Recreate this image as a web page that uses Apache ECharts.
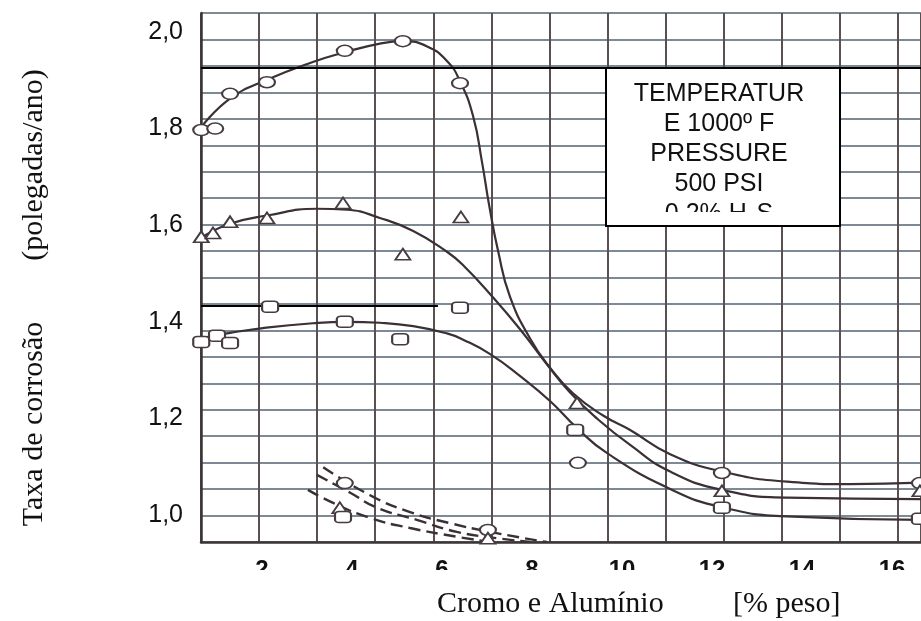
<!DOCTYPE html>
<html lang="pt">
<head>
    <meta charset="UTF-8">
    <title>Taxa de corrosão</title>
    <script src="https://cdn.jsdelivr.net/npm/echarts@6/dist/echarts.min.js"></script>
    <style>
        html, body { margin: 0; padding: 0; background: #fff; }
        #main { width: 921px; height: 621px; }
    </style>
</head>
<body>
<div id="main"></div>
<script type="text/javascript">
    // eixos
    var xMin = 0.6444, xMax = 16.644;
    var yMin = 0.9441, yMax = 2.0393;
    var xTicks = [2, 4, 6, 8, 10, 12, 14, 16];
    var yTicks = [1.0, 1.2, 1.4, 1.6, 1.8, 2.0];

    // pontos medidos
    var circlePts = [[0.65, 1.797], [0.96, 1.800], [1.29, 1.872], [2.11, 1.896], [3.84, 1.961], [5.13, 1.981],
        [6.40, 1.894], [9.02, 1.108], [12.22, 1.087], [16.62, 1.066], [3.84, 1.066], [7.02, 0.969]];
    var trianglePts = [[0.65, 1.576], [0.91, 1.584], [1.29, 1.607], [2.11, 1.615], [3.80, 1.646], [5.13, 1.540],
        [6.42, 1.617], [9.00, 1.232], [12.22, 1.050], [16.62, 1.050], [3.73, 1.015], [7.02, 0.952]];
    var squarePts = [[0.65, 1.358], [1.00, 1.371], [1.29, 1.356], [2.18, 1.431], [3.84, 1.400], [5.07, 1.364],
        [6.40, 1.429], [8.96, 1.176], [12.22, 1.015], [16.62, 0.992], [3.80, 0.996]];

    // curvas ajustadas
    var circleCurve = [[0.65, 1.803], [1.29, 1.862], [2.11, 1.901], [3.13, 1.938], [3.84, 1.958], [4.62, 1.976],
        [5.13, 1.981], [5.67, 1.970], [6.11, 1.940], [6.40, 1.898], [6.69, 1.826], [6.89, 1.730], [7.05, 1.640],
        [7.25, 1.545], [7.51, 1.452], [7.96, 1.365], [8.40, 1.305], [8.91, 1.252], [9.58, 1.206], [10.18, 1.176],
        [11.07, 1.126], [12.22, 1.090], [13.67, 1.069], [15.07, 1.064], [16.64, 1.067]];
    var triangleCurve = [[0.65, 1.574], [1.29, 1.603], [2.11, 1.620], [3.22, 1.634], [3.89, 1.632], [4.62, 1.615],
        [5.36, 1.588], [6.11, 1.545], [6.47, 1.517], [7.13, 1.451], [7.73, 1.385], [8.33, 1.312],
        [8.84, 1.254], [9.44, 1.200], [10.18, 1.145], [11.07, 1.090], [12.22, 1.052], [13.67, 1.036], [16.64, 1.033]];
    var squareCurve = [[0.65, 1.366], [1.29, 1.377], [2.02, 1.387], [3.13, 1.397], [3.89, 1.400], [4.62, 1.398],
        [5.36, 1.391], [6.11, 1.376], [6.47, 1.363], [7.07, 1.333], [7.73, 1.288], [8.40, 1.236], [9.00, 1.180],
        [9.67, 1.128], [11.07, 1.054], [12.22, 1.016], [13.67, 0.997], [16.64, 0.990]];

    // curvas tracejadas (parte inferior)
    var dashA = [[3.36, 1.099], [4.40, 1.041], [5.29, 1.006], [6.18, 0.983], [7.07, 0.965], [8.33, 0.944]];
    var dashB = [[3.22, 1.083], [3.96, 1.046], [4.56, 1.015], [5.44, 0.990], [6.33, 0.965], [7.22, 0.952], [7.96, 0.944]];
    var dashC = [[3.02, 1.052], [3.58, 1.025], [4.40, 0.994], [5.29, 0.973], [6.33, 0.955], [7.07, 0.944]];

    // linhas pretas sobrepostas
    var noteLines = [[xMin, xMax, 1.9255], [xMin, 5.91, 1.4327]];

    var ink = '#3a3035';
    var myChart = echarts.init(document.getElementById('main'));

    function curve(data, dashed) {
        return {
            type: 'line', data: data, smooth: 0.5, symbol: 'none',
            xAxisIndex: 0, yAxisIndex: 0, z: 3, silent: true,
            lineStyle: {color: ink, width: dashed ? 2.4 : 2.2, type: dashed ? [12, 6] : 'solid'}
        };
    }

    function marks(data, symbol, size) {
        return {
            type: 'scatter', data: data, symbol: symbol, symbolSize: size,
            xAxisIndex: 0, yAxisIndex: 0, z: 5, silent: true,
            itemStyle: {color: '#fff', borderColor: '#453b40', borderWidth: 1.8, opacity: 1}
        };
    }

    var lineSeries = curve(circleCurve, false);
    lineSeries.markLine = {
        silent: true, symbol: 'none', label: {show: false},
        lineStyle: {color: '#000', width: 2, type: 'solid'},
        data: noteLines.map(function (l) {
            return [{coord: [l[0], l[2]]}, {coord: [l[1], l[2]]}];
        })
    };

    var option = {
        animation: false,
        backgroundColor: '#fff',
        grid: {left: 201, right: 0, top: 13, bottom: 79},
        xAxis: [
            {
                type: 'value', min: xMin, max: xMax,
                axisLine: {show: true, lineStyle: {color: '#3b3535', width: 2.5}},
                axisTick: {show: false},
                splitLine: {show: false},
                axisLabel: {
                    customValues: xTicks, margin: 16,
                    fontFamily: 'Liberation Sans', fontSize: 24, fontWeight: 'bold', color: '#111'
                }
            },
            {
                // malha vertical do papel
                type: 'value', min: 0, max: 12.397, interval: 1,
                axisLine: {show: false}, axisTick: {show: false}, axisLabel: {show: false},
                splitLine: {show: true, lineStyle: {color: '#5b5050', width: 2}}
            }
        ],
        yAxis: [
            {
                type: 'value', min: yMin, max: yMax,
                axisLine: {show: true, lineStyle: {color: '#3b3535', width: 2.5}},
                axisTick: {show: false},
                splitLine: {show: false},
                axisLabel: {
                    customValues: yTicks, margin: 18,
                    fontFamily: 'Liberation Sans', fontSize: 25, color: '#111',
                    formatter: function (v) { return v.toFixed(1).replace('.', ','); }
                }
            },
            {
                // malha horizontal do papel
                type: 'value', min: 0, max: 20, interval: 1,
                axisLine: {show: false}, axisTick: {show: false}, axisLabel: {show: false},
                splitLine: {show: true, lineStyle: {color: '#7d8a96', width: 2}}
            }
        ],
        series: [
            lineSeries,
            curve(triangleCurve, false),
            curve(squareCurve, false),
            curve(dashA, true),
            curve(dashB, true),
            curve(dashC, true),
            marks(circlePts, 'circle', [16, 11]),
            marks(trianglePts, 'triangle', [15, 11]),
            marks(squarePts, 'roundRect', [16, 11])
        ],
        graphic: [
            // rótulos do eixo x aparecem cortados na figura
            {type: 'rect', z: 50, shape: {x: 190, y: 570, width: 731, height: 16}, style: {fill: '#fff'}},
            {type: 'rect', z: 100, shape: {x: 606, y: 68, width: 234, height: 158}, style: {fill: '#fff'}},
            {
                type: 'text', z: 101,
                style: {
                    text: 'TEMPERATUR\nE 1000º F\nPRESSURE\n500 PSI\n0,2% H₂S',
                    x: 719, y: 79, align: 'center', verticalAlign: 'top', lineHeight: 30,
                    fontFamily: 'Liberation Sans', fontSize: 25, fill: '#111'
                }
            },
            {type: 'rect', z: 102, shape: {x: 607, y: 212, width: 232, height: 13}, style: {fill: '#fff'}},
            {type: 'rect', z: 103, shape: {x: 606, y: 68, width: 234, height: 158},
                style: {fill: null, stroke: '#000', lineWidth: 2}},
            {
                type: 'text', z: 60,
                style: {text: 'Cromo e Alumínio', x: 437, y: 604, align: 'left', verticalAlign: 'middle',
                    fontFamily: 'Liberation Serif', fontSize: 30, fill: '#111'}
            },
            {
                type: 'text', z: 60,
                style: {text: '[% peso]', x: 733, y: 604, align: 'left', verticalAlign: 'middle',
                    fontFamily: 'Liberation Serif', fontSize: 30, fill: '#111'}
            },
            {
                type: 'text', z: 60, x: 34, y: 424, rotation: Math.PI / 2,
                style: {text: 'Taxa de corrosão', x: 0, y: 0, align: 'center', verticalAlign: 'middle',
                    fontFamily: 'Liberation Serif', fontSize: 30, fill: '#111'}
            },
            {
                type: 'text', z: 60, x: 34, y: 165, rotation: Math.PI / 2,
                style: {text: '(polegadas/ano)', x: 0, y: 0, align: 'center', verticalAlign: 'middle',
                    fontFamily: 'Liberation Serif', fontSize: 30, fill: '#111'}
            }
        ]
    };

    myChart.setOption(option);
</script>
</body>
</html>
